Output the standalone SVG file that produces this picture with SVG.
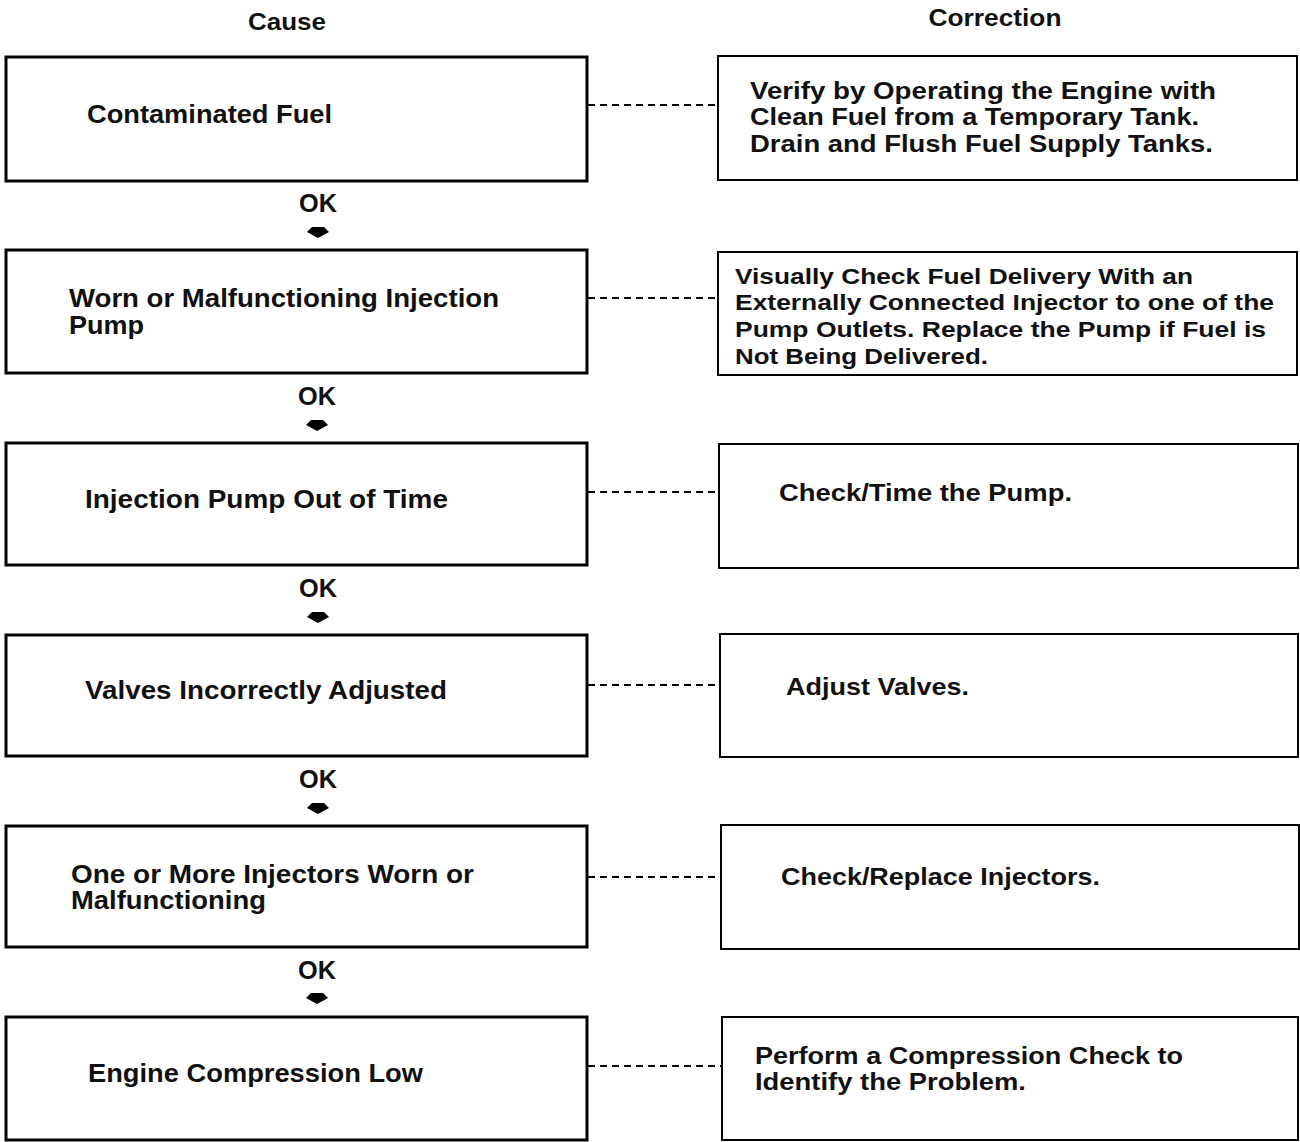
<svg xmlns="http://www.w3.org/2000/svg" width="1300" height="1142" viewBox="0 0 1300 1142">
  <style>
    text { font-family: "Liberation Sans", Arial, sans-serif; font-weight: bold; fill: #111; }
    .hdr { font-size: 24px; }
    .cause { font-size: 25px; }
    .corr { font-size: 24px; }
    .small { font-size: 22px; }
    .ok { font-size: 25px; text-anchor: middle; }
    .cbox { fill: #fff; stroke: #000; stroke-width: 3; }
    .rbox { fill: #fff; stroke: #000; stroke-width: 2; }
    .link { stroke: #000; stroke-width: 2; stroke-dasharray: 7 5; fill: none; }
    .tip { fill: #000; }
  </style>
  <defs>
    <polygon id="downTip" points="-11,0 -6,-5 6,-5 11,0 0,6"/>
  </defs>
  <rect width="1300" height="1142" fill="#fff"/>

  <!-- column headings -->
  <text class="hdr" x="287" y="30" text-anchor="middle" textLength="78" lengthAdjust="spacingAndGlyphs">Cause</text>
  <text class="hdr" x="995" y="26" text-anchor="middle" textLength="133" lengthAdjust="spacingAndGlyphs">Correction</text>

  <!-- dashed links from each cause to its correction, plus OK steps -->
  <g id="connectors">
    <line class="link" x1="588" y1="105" x2="718" y2="105"/>
    <line class="link" x1="588" y1="298" x2="718" y2="298"/>
    <line class="link" x1="588" y1="492" x2="719" y2="492"/>
    <line class="link" x1="588" y1="685" x2="720" y2="685"/>
    <line class="link" x1="588" y1="877" x2="721" y2="877"/>
    <line class="link" x1="588" y1="1066" x2="722" y2="1066"/>

    <text class="ok" x="318" y="212" textLength="38" lengthAdjust="spacingAndGlyphs">OK</text>
    <use href="#downTip" class="tip" x="318" y="232"/>
    <text class="ok" x="317" y="405" textLength="38" lengthAdjust="spacingAndGlyphs">OK</text>
    <use href="#downTip" class="tip" x="317" y="425"/>
    <text class="ok" x="318" y="597" textLength="38" lengthAdjust="spacingAndGlyphs">OK</text>
    <use href="#downTip" class="tip" x="318" y="617"/>
    <text class="ok" x="318" y="788" textLength="38" lengthAdjust="spacingAndGlyphs">OK</text>
    <use href="#downTip" class="tip" x="318" y="808"/>
    <text class="ok" x="317" y="979" textLength="38" lengthAdjust="spacingAndGlyphs">OK</text>
    <use href="#downTip" class="tip" x="317" y="998"/>
  </g>

  <!-- cause boxes -->
  <g id="cause-fuel">
    <rect class="cbox" x="6" y="57" width="581" height="124"/>
    <text class="cause" x="87" y="123" textLength="245" lengthAdjust="spacingAndGlyphs">Contaminated Fuel</text>
  </g>
  <g id="cause-pump-worn">
    <rect class="cbox" x="6" y="250" width="581" height="123"/>
    <text class="cause" x="69" y="307" textLength="430" lengthAdjust="spacingAndGlyphs">Worn or Malfunctioning Injection</text>
    <text class="cause" x="69" y="334" textLength="75" lengthAdjust="spacingAndGlyphs">Pump</text>
  </g>
  <g id="cause-pump-timing">
    <rect class="cbox" x="6" y="443" width="581" height="122"/>
    <text class="cause" x="85" y="508" textLength="363" lengthAdjust="spacingAndGlyphs">Injection Pump Out of Time</text>
  </g>
  <g id="cause-valves">
    <rect class="cbox" x="6" y="635" width="581" height="121"/>
    <text class="cause" x="85" y="699" textLength="362" lengthAdjust="spacingAndGlyphs">Valves Incorrectly Adjusted</text>
  </g>
  <g id="cause-injectors">
    <rect class="cbox" x="6" y="826" width="581" height="121"/>
    <text class="cause" x="71" y="883" textLength="403" lengthAdjust="spacingAndGlyphs">One or More Injectors Worn or</text>
    <text class="cause" x="71" y="909" textLength="195" lengthAdjust="spacingAndGlyphs">Malfunctioning</text>
  </g>
  <g id="cause-compression">
    <rect class="cbox" x="6" y="1017" width="581" height="123"/>
    <text class="cause" x="88" y="1082" textLength="335" lengthAdjust="spacingAndGlyphs">Engine Compression Low</text>
  </g>

  <!-- correction boxes -->
  <g id="fix-fuel">
    <rect class="rbox" x="718" y="56" width="579" height="124"/>
    <text class="corr" x="750" y="99" textLength="466" lengthAdjust="spacingAndGlyphs">Verify by Operating the Engine with</text>
    <text class="corr" x="750" y="125" textLength="449" lengthAdjust="spacingAndGlyphs">Clean Fuel from a Temporary Tank.</text>
    <text class="corr" x="750" y="152" textLength="463" lengthAdjust="spacingAndGlyphs">Drain and Flush Fuel Supply Tanks.</text>
  </g>
  <g id="fix-pump-worn">
    <rect class="rbox" x="718" y="252" width="579" height="123"/>
    <text class="small" x="735" y="284" textLength="458" lengthAdjust="spacingAndGlyphs">Visually Check Fuel Delivery With an</text>
    <text class="small" x="735" y="310" textLength="539" lengthAdjust="spacingAndGlyphs">Externally Connected Injector to one of the</text>
    <text class="small" x="735" y="337" textLength="531" lengthAdjust="spacingAndGlyphs">Pump Outlets. Replace the Pump if Fuel is</text>
    <text class="small" x="735" y="364" textLength="253" lengthAdjust="spacingAndGlyphs">Not Being Delivered.</text>
  </g>
  <g id="fix-pump-timing">
    <rect class="rbox" x="719" y="444" width="579" height="124"/>
    <text class="corr" x="779" y="501" textLength="293" lengthAdjust="spacingAndGlyphs">Check/Time the Pump.</text>
  </g>
  <g id="fix-valves">
    <rect class="rbox" x="720" y="634" width="578" height="123"/>
    <text class="corr" x="786" y="695" textLength="183" lengthAdjust="spacingAndGlyphs">Adjust Valves.</text>
  </g>
  <g id="fix-injectors">
    <rect class="rbox" x="721" y="825" width="578" height="124"/>
    <text class="corr" x="781" y="885" textLength="319" lengthAdjust="spacingAndGlyphs">Check/Replace Injectors.</text>
  </g>
  <g id="fix-compression">
    <rect class="rbox" x="722" y="1017" width="576" height="123"/>
    <text class="corr" x="755" y="1064" textLength="428" lengthAdjust="spacingAndGlyphs">Perform a Compression Check to</text>
    <text class="corr" x="755" y="1090" textLength="271" lengthAdjust="spacingAndGlyphs">Identify the Problem.</text>
  </g>
</svg>
